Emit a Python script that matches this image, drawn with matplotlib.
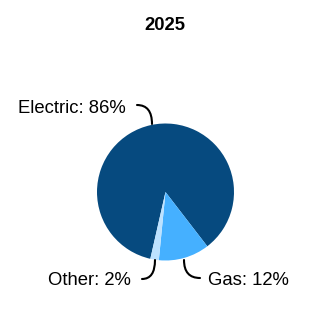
import matplotlib
matplotlib.use("Agg")
import matplotlib.pyplot as plt

categories = ["Electric", "Gas", "Other"]
shares = [86, 12, 2]
colors = ["#064a7f", "#45b0ff", "#bde2ff"]
title = "2025"

plt.rcParams['font.family'] = ['Liberation Sans', 'DejaVu Sans']

W = 332
fig = plt.figure(figsize=(3.32, 3.32), dpi=100)
cx, cy, r = 165.5, 192.0, 68.5
ax = fig.add_axes([(cx - r) / W, (W - cy - r) / W, 2 * r / W, 2 * r / W])
ax.pie(shares, colors=colors, startangle=257.2, counterclock=False,
       radius=1.0, wedgeprops=dict(linewidth=0))
ax.set_xlim(-1, 1)
ax.set_ylim(-1, 1)
ax.set_aspect('equal')
ax.axis('off')

def d(px, py):
    return ((px - cx) / r, (cy - py) / r)

labels = [f"{c}: {v}%" for c, v in zip(categories, shares)]
fs = 13.3

# Electric
ax.text(*d(126, 113), labels[0], ha='right', va='baseline', fontsize=fs, clip_on=False)
ax.annotate('', xy=d(152, 124), xytext=d(137, 105), xycoords='data',
            arrowprops=dict(arrowstyle='-', color='black', lw=1.5, shrinkA=0, shrinkB=0,
                            connectionstyle='angle3,angleA=0,angleB=90'),
            annotation_clip=False)
# Gas
ax.text(*d(208, 285), labels[1], ha='left', va='baseline', fontsize=fs, clip_on=False)
ax.annotate('', xy=d(184, 260), xytext=d(200, 278), xycoords='data',
            arrowprops=dict(arrowstyle='-', color='black', lw=1.5, shrinkA=0, shrinkB=0,
                            connectionstyle='angle3,angleA=0,angleB=90'),
            annotation_clip=False)
# Other
ax.text(*d(131, 285), labels[2], ha='right', va='baseline', fontsize=fs, clip_on=False)
ax.annotate('', xy=d(155, 260), xytext=d(142, 279), xycoords='data',
            arrowprops=dict(arrowstyle='-', color='black', lw=1.5, shrinkA=0, shrinkB=0,
                            connectionstyle='angle3,angleA=0,angleB=90'),
            annotation_clip=False)

fig.text(165 / W, 1 - 30 / W, title, ha='center', va='baseline', fontsize=fs, fontweight='bold')

fig.savefig("out.png", dpi=100)
